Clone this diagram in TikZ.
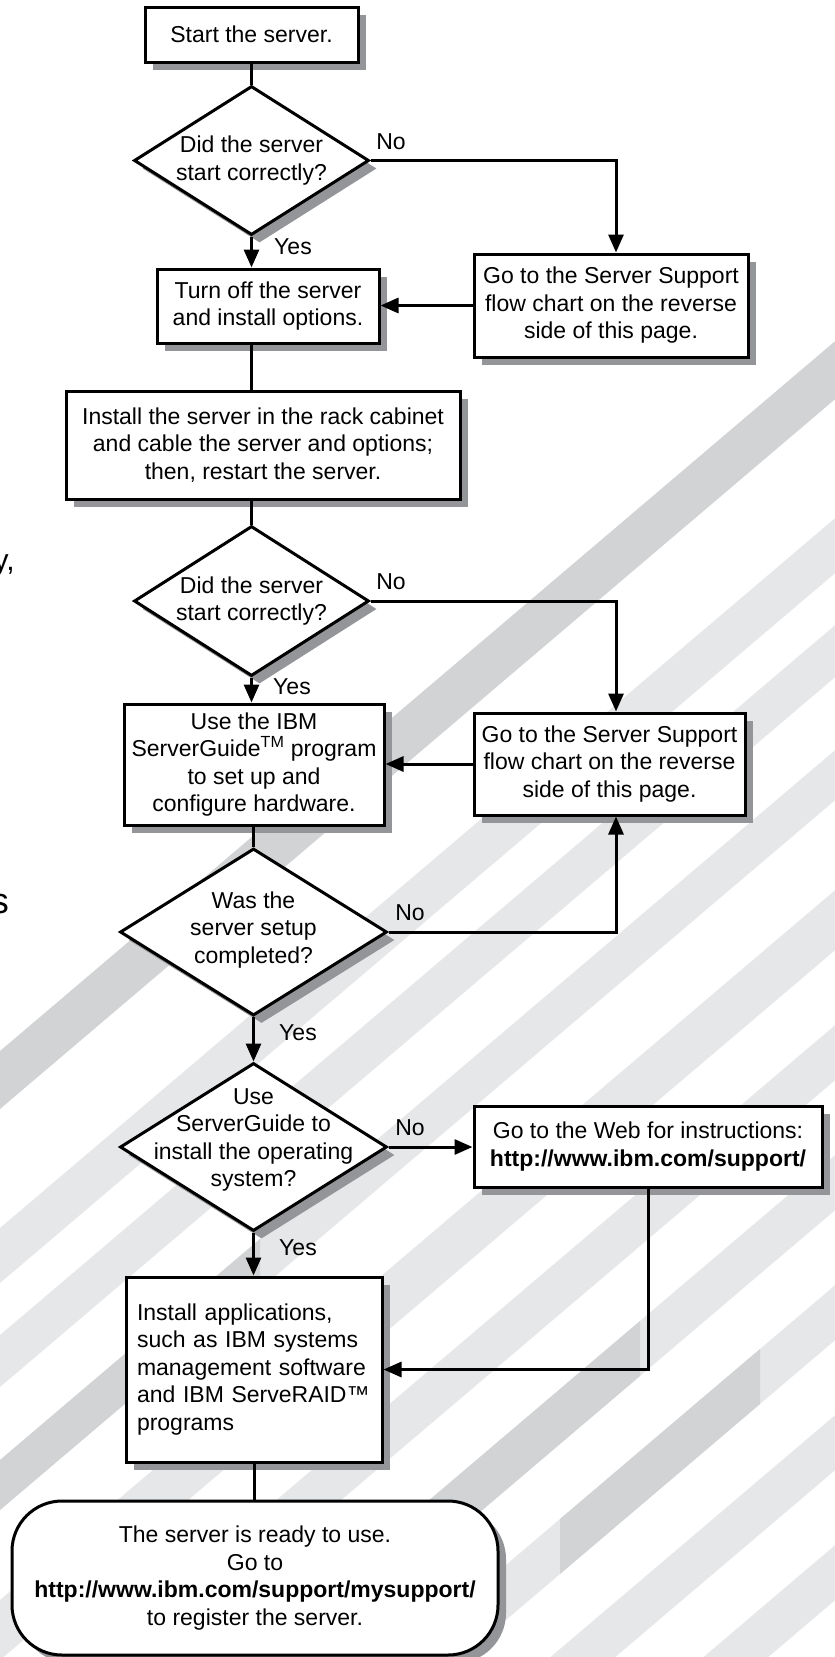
\documentclass[tikz,border=0pt]{standalone}
\usepackage{fontspec}
\setmainfont{Liberation Sans}
\usetikzlibrary{shapes,arrows.meta,shadows,positioning}
\definecolor{shadegray}{RGB}{147,149,152}
\definecolor{stripelight}{RGB}{230,231,232}
\definecolor{stripemid}{RGB}{209,211,212}
\tikzset{
flowbox/.style={
  draw,line width=3pt,fill=white,align=center,inner sep=0pt,
  general shadow={fill=shadegray,shadow xshift=8pt,shadow yshift=-8pt}},
decision/.style={
  diamond,draw,line width=3pt,fill=white,inner sep=0pt,
  general shadow={fill=shadegray,shadow xshift=8pt,shadow yshift=-8pt}},
decisiontext/.style={align=center,inner sep=0pt},
answer/.style={inner sep=0pt},
flowline/.style={line width=3pt},
flowarrow/.style={line width=3pt,-{Triangle[length=18pt,width=15pt]}}
}

\begin{document}
\begin{tikzpicture}[x=1pt,y=-1pt,every node/.style={font=\fontsize{23pt}{27.5pt}\selectfont}]
\useasboundingbox (0,0) rectangle (835,1657);

% stripes behind the chart
\begin{scope}
\clip (0,0) rectangle (835,1657);
\foreach \yoff/\bw/\xs/\xe/\col in {1051/58/0/835/stripemid,1228/55/0/835/stripelight,
  1335/52/0/835/stripelight,1460/50/0/835/stripelight,1460/50/0/260/stripemid,
  1600/60/0/835/stripelight,1735/55/0/835/stripelight,1865/55/0/835/stripelight,
  1865/55/420/640/stripemid,1995/55/0/835/stripelight,1995/55/560/760/stripemid,
  2125/55/0/835/stripelight,2255/55/0/835/stripelight,2385/55/0/835/stripelight}
  \fill[\col] (\xs,{\yoff-0.85*\xs}) -- (\xe,{\yoff-0.85*\xe})
    -- (\xe,{\yoff+\bw-0.85*\xe}) -- (\xs,{\yoff+\bw-0.85*\xs}) -- cycle;
\end{scope}

% text cut at the page edge
\node[anchor=base east,inner sep=0pt,font=\fontsize{30pt}{36pt}\selectfont] (edgey) at (15,570) {y,};
\node[anchor=base east,inner sep=0pt,font=\fontsize{36pt}{40pt}\selectfont] (edges) at (9,913) {s};

% boxes
\node[flowbox,minimum width=213pt,minimum height=55pt] (start) at (251.5,34.5) {Start the server.};
\node[decision,minimum width=235pt,minimum height=149pt] (d1) at (251.5,160.5) {};
\node[decisiontext] (d1txt) at (d1) {Did the server\\start correctly?};
\node[flowbox,minimum width=222pt,minimum height=74pt] (turnoff) at (268,306) {Turn off the server\\and install options.};
\node[flowbox,minimum width=274pt,minimum height=103pt] (sup1) at (611,305.5) {Go to the Server Support\\flow chart on the reverse\\side of this page.};
\node[flowbox,minimum width=394pt,minimum height=108pt] (rack) at (263,445) {Install the server in the rack cabinet\\and cable the server and options;\\then, restart the server.};
\node[decision,minimum width=235pt,minimum height=150pt] (d2) at (251.5,601) {};
\node[decisiontext] (d2txt) at (d2) {Did the server\\start correctly?};
\node[flowbox,minimum width=260pt,minimum height=121pt] (guide) at (254,764.5) {Use the IBM\\ServerGuide\textsuperscript{TM} program\\to set up and\\configure hardware.};
\node[flowbox,minimum width=271pt,minimum height=102pt] (sup2) at (609.5,764) {Go to the Server Support\\flow chart on the reverse\\side of this page.};
\node[decision,minimum width=267pt,minimum height=167pt] (d3) at (253.5,932) {};
\node[decisiontext] (d3txt) at ([yshift=2pt]d3.center) {Was the\\server setup\\completed?};
\node[decision,minimum width=267pt,minimum height=168pt] (d4) at (253.5,1147) {};
\node[decisiontext] (d4txt) at ([yshift=7pt]d4.center) {Use\\ServerGuide to\\install the operating\\system?};
\node[flowbox,minimum width=348pt,minimum height=81pt] (web) at (648,1146.5) {Go to the Web for instructions:\\\textbf{http://www.ibm.com/support/}};
\node[flowbox,align=left,text width=234pt,inner xsep=11pt,minimum height=185pt] (apps) at (254,1369.5) {Install applications,\\such as IBM systems\\management software\\and IBM ServeRAID™\\programs};
\node[flowbox,rounded corners=50pt,minimum width=486pt,minimum height=154pt] (ready) at (255,1578) {The server is ready to use.\\Go to\\\textbf{http://www.ibm.com/support/mysupport/}\\to register the server.};

% answers
\node[answer] (no1) at (391,142) {No};
\node[answer] (yes1) at (293,247) {Yes};
\node[answer] (no2) at (391,582) {No};
\node[answer] (yes2) at (292,687) {Yes};
\node[answer] (no3) at (410,913) {No};
\node[answer] (yes3) at (298,1033) {Yes};
\node[answer] (no4) at (410,1128) {No};
\node[answer] (yes4) at (298,1248) {Yes};

\coordinate (jog) at (616,0);

% connectors
\draw[flowline] (start) -- (d1.north);
\draw[flowarrow] (d1.south) -- (d1.south |- turnoff.north);
\draw[flowarrow] (d1.east) -| (jog |- sup1.north);
\draw[flowarrow] (sup1.west) -- (sup1.west -| turnoff.east);
\draw[flowline] (turnoff.south -| start) -- (rack.north -| start);
\draw[flowline] (rack.south -| d2) -- (d2.north);
\draw[flowarrow] (d2.south) -- (d2.south |- guide.north);
\draw[flowarrow] (d2.east) -| (jog |- sup2.north);
\draw[flowarrow] (sup2.west) -- (sup2.west -| guide.east);
\draw[flowline] (guide.south -| d3) -- (d3.north);
\draw[flowarrow] (d3.east) -| (jog |- sup2.south);
\draw[flowarrow] (d3.south) -- (d4.north);
\draw[flowarrow] (d4.east) -- (d4.east -| web.west);
\draw[flowarrow] (d4.south) -- (d4.south |- apps.north);
\draw[flowarrow] (web.south) |- (apps.east);
\draw[flowline] (apps.south) -- (apps.south |- ready.north);
\end{tikzpicture}
\end{document}
